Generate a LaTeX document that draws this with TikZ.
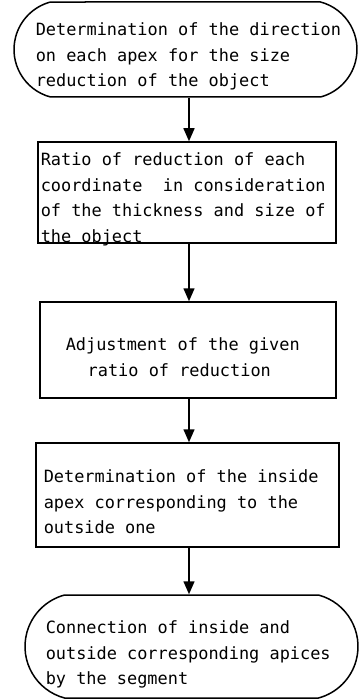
\documentclass[tikz,border=0pt]{standalone}
\usepackage{fontspec}
\setmonofont{DejaVu Sans Mono}
\usetikzlibrary{shapes.misc,arrows.meta}

\begin{document}
\begin{tikzpicture}[x=1pt, y=-1pt, line width=1.5pt, >={Triangle[width=11pt,length=13pt]},
    term/.style={draw, rounded rectangle, rounded rectangle arc length=150, inner sep=0pt},
    stepbox/.style={draw, rectangle, inner sep=0pt},
    txt/.style={anchor=north west, align=left, inner sep=0pt,
      font=\ttfamily\fontsize{16.9}{25.5}\selectfont}]

   \useasboundingbox (0,0) rectangle (359,700);

   \node [term, minimum width=343pt, minimum height=95pt] (start) at (185.5,49.5) {};
   \node [stepbox, minimum width=298pt, minimum height=101pt] (ratio) at (187,192.5) {};
   \node [stepbox, minimum width=296pt, minimum height=96pt] (adjust) at (188,350) {};
   \node [stepbox, minimum width=303pt, minimum height=104pt] (inside) at (187.5,495) {};
   \node [term, minimum width=333pt, minimum height=103pt] (connect) at (191.5,646.5) {};

   \node [txt] (startText) at (35,22) {Determination of the direction\\on each apex for the size\\reduction of the object};
   \node [txt] (ratioText) at (40,152) {Ratio of reduction of each\\coordinate\ \ in consideration\\of the thickness and size of\\the object};
   \node [txt] (adjustText) at (65,337) {Adjustment of the given\\\hspace*{1.3em}ratio of reduction};
   \node [txt] (insideText) at (43,469) {Determination of the inside\\apex corresponding to the\\outside one};
   \node [txt] (connectText) at (45,620) {Connection of inside and\\outside corresponding apices\\by the segment};

   \foreach \a/\b in {start/ratio, ratio/adjust, adjust/inside, inside/connect}
     \draw [->] (\a.south -| 189,0) -- (\b.north -| 189,0);

\end{tikzpicture}
\end{document}
